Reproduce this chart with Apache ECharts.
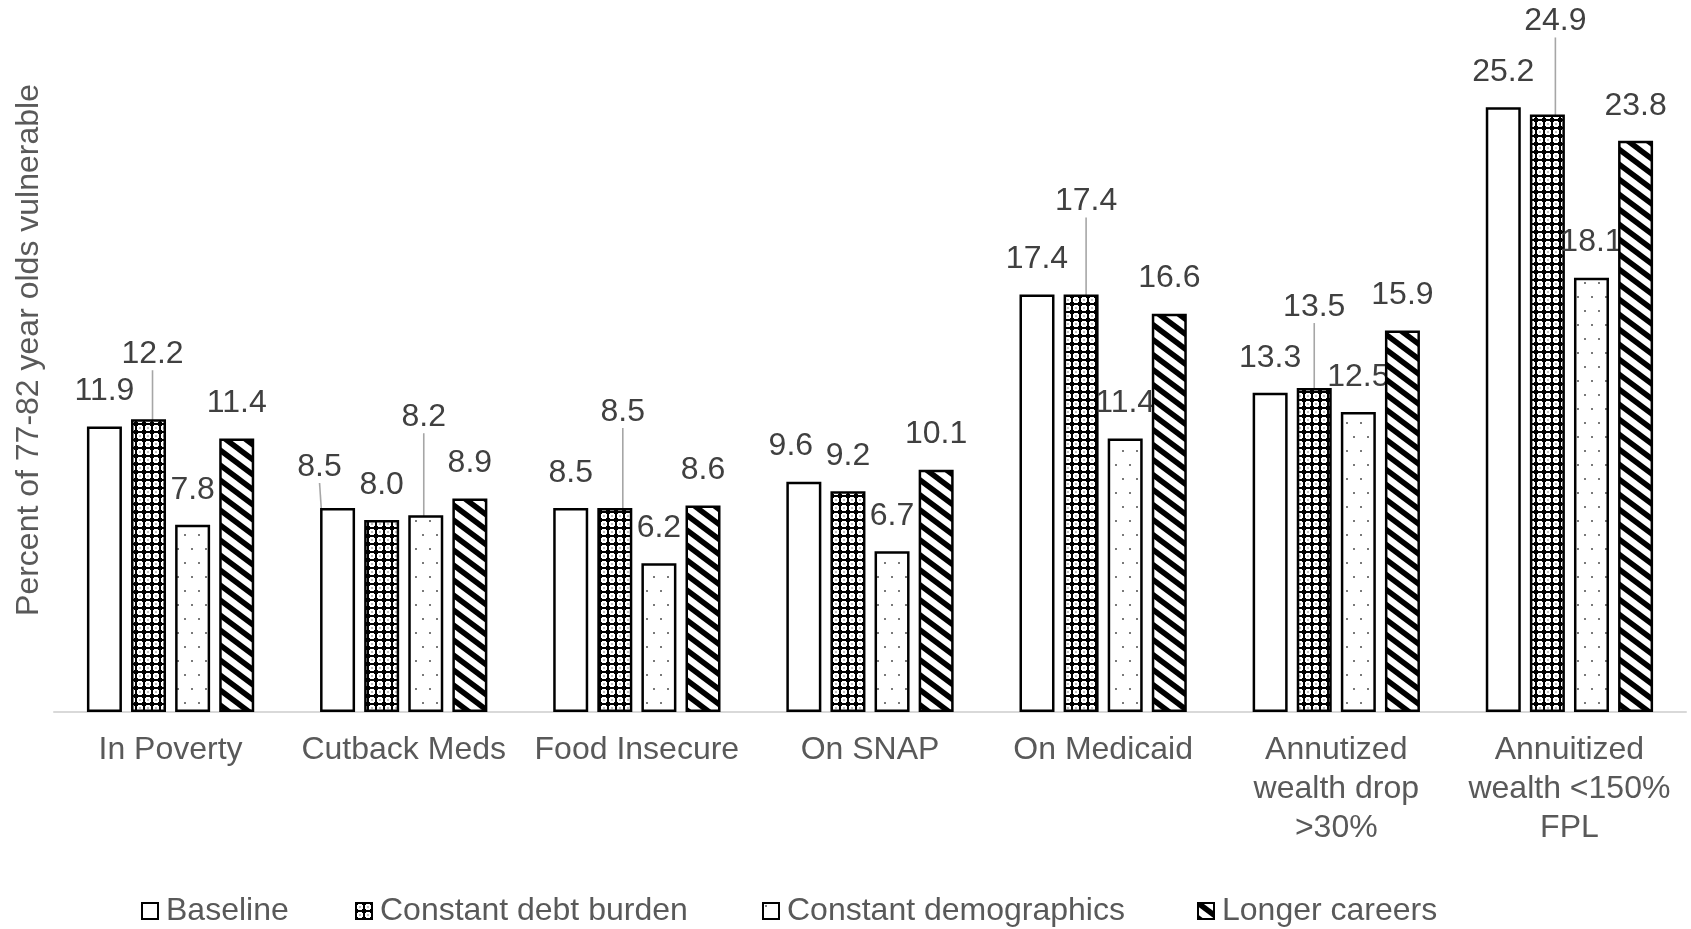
<!DOCTYPE html>
<html>
<head>
<meta charset="utf-8">
<title>Vulnerability of 77-82 year olds</title>
<script src="https://cdn.jsdelivr.net/npm/echarts@6/dist/echarts.min.js"></script>
<style>
  html, body { margin: 0; padding: 0; background: #fff; }
  #chart { width: 1691px; height: 929px; }
</style>
</head>
<body>
<div id="chart"></div>
<script>
// ---- data ----
const categories = [
  'In Poverty',
  'Cutback Meds',
  'Food Insecure',
  'On SNAP',
  'On Medicaid',
  'Annutized\nwealth drop\n>30%',
  'Annuitized\nwealth <150%\nFPL'
];
const seriesNames = ['Baseline', 'Constant debt burden', 'Constant demographics', 'Longer careers'];
const baseline     = [11.9, 8.5, 8.5, 9.6, 17.4, 13.3, 25.2];
const debtBurden   = [12.2, 8.0, 8.5, 9.2, 17.4, 13.5, 24.9];
const demographics = [7.8, 8.2, 6.2, 6.7, 11.4, 12.5, 18.1];
const longerCareer = [11.4, 8.9, 8.6, 10.1, 16.6, 15.9, 23.8];
const seriesValues = [baseline, debtBurden, demographics, longerCareer];

// ---- label placement: [series][category] -> [dx, dy, leader line] ----
const labelNudges = {
  0: { 1: [-18, -6, true], 3: [-13, 0, false] },
  1: { 0: [4, -30, true], 2: [8, -61, true], 4: [5, -58, true], 5: [0, -46, true], 6: [8, -58, true] },
  2: { 1: [-2, -63, true] }
};

// ---- fill patterns ----
function makeTile(w, h, draw) {
  const c = document.createElement('canvas');
  c.width = w; c.height = h;
  draw(c.getContext('2d'), w, h);
  return c;
}
const plainFill = '#ffffff';
const checkTile = makeTile(8, 8, (g) => {
  g.fillStyle = '#000'; g.fillRect(0, 0, 8, 8);
  g.fillStyle = '#fff';
  g.fillRect(2, 1, 4, 6); g.fillRect(1, 2, 6, 4);
  g.fillStyle = '#000'; g.fillRect(3.5, 3.5, 1, 1);
});
const dotTile = makeTile(14, 28, (g) => {
  g.fillStyle = '#fff'; g.fillRect(0, 0, 14, 28);
  g.fillStyle = '#7a7a7a'; g.fillRect(2, 2, 2, 2); g.fillRect(9, 16, 2, 2);
});
const stripeTile = makeTile(20, 15, (g) => {
  g.fillStyle = '#fff'; g.fillRect(0, 0, 20, 15);
  g.strokeStyle = '#000'; g.lineWidth = 5.5; g.lineCap = 'butt';
  for (let k = -1; k <= 1; k++) {
    g.beginPath();
    g.moveTo(-10, -7.5 + 15 * k);
    g.lineTo(30, 22.5 + 15 * k);
    g.stroke();
  }
});
const fills = [
  plainFill,
  { image: checkTile, repeat: 'repeat' },
  { image: dotTile, repeat: 'repeat' },
  { image: stripeTile, repeat: 'repeat' }
];

const FONT = 'Liberation Sans, Arial, sans-serif';
const TEXT_COLOR = '#404040';

function buildData(si) {
  const nudges = labelNudges[si] || {};
  return seriesValues[si].map((v, i) => ({
    value: v,
    labelLine: { show: !!(nudges[i] && nudges[i][2]) }
  }));
}

function layoutFor(si) {
  const nudges = labelNudges[si] || {};
  return function (params) {
    const n = nudges[params.dataIndex];
    if (!n) return {};
    const r = params.labelRect;
    return {
      x: r.x + r.width / 2 + n[0],
      y: r.y + r.height + n[1],
      align: 'center',
      verticalAlign: 'bottom'
    };
  };
}

const series = seriesNames.map((name, si) => ({
  name: name,
  type: 'bar',
  z: 2 + si,
  barWidth: 35,
  barGap: '26%',
  data: buildData(si),
  itemStyle: {
    color: fills[si],
    borderColor: '#000',
    borderWidth: 2.5
  },
  label: {
    show: true,
    position: 'top',
    distance: 19,
    formatter: (p) => p.value.toFixed(1),
    fontFamily: FONT,
    fontSize: 32,
    color: TEXT_COLOR
  },
  labelLine: {
    show: false,
    lineStyle: { color: '#a6a6a6', width: 1.6 }
  },
  labelLayout: layoutFor(si),
  emphasis: { disabled: true }
}));

const legendLeft = [141, 355, 762, 1197];
const legends = seriesNames.map((name, si) => ({
  data: [{ name: name, icon: 'rect' }],
  left: legendLeft[si],
  top: 895,
  padding: 0,
  itemWidth: 16,
  itemHeight: 16,
  selectedMode: false,
  textStyle: { fontFamily: FONT, fontSize: 32, color: '#595959', padding: [0, 0, 0, 3] }
}));

const chart = echarts.init(document.getElementById('chart'), null, { renderer: 'canvas' });
chart.setOption({
  animation: false,
  backgroundColor: '#ffffff',
  grid: { left: 54, right: 5, top: 0, bottom: 217, containLabel: false },
  legend: legends,
  xAxis: {
    type: 'category',
    data: categories,
    axisTick: { show: false },
    axisLine: { lineStyle: { color: '#d9d9d9', width: 2 } },
    axisLabel: {
      interval: 0,
      margin: 19,
      fontFamily: FONT,
      fontSize: 32,
      lineHeight: 39,
      color: '#595959'
    }
  },
  yAxis: {
    type: 'value',
    min: 0,
    max: 29.67,
    axisLabel: { show: false },
    axisLine: { show: false },
    axisTick: { show: false },
    splitLine: { show: false },
    name: 'Percent of 77-82 year olds vulnerable',
    nameLocation: 'middle',
    nameGap: 9,
    nameTextStyle: { fontFamily: FONT, fontSize: 32, color: '#595959', padding: [0, 0, 0, 12] }
  },
  series: series
});
</script>
</body>
</html>
